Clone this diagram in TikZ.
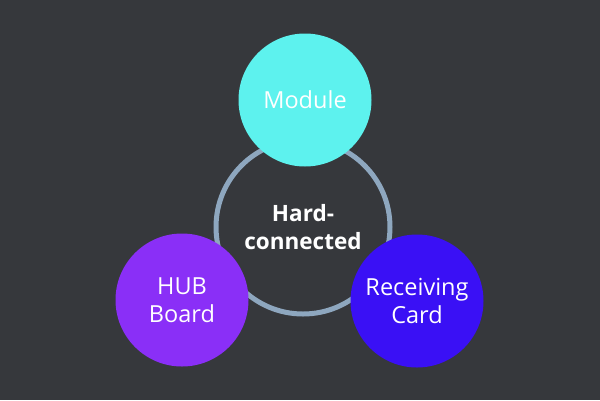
\documentclass[tikz,border=0pt]{standalone}
\usepackage{fontspec}
\setmainfont{Open Sans}
\usepackage{tikz}
\definecolor{sfondo}{HTML}{36383C}
\definecolor{anello}{HTML}{8EA7BF}
\definecolor{ciano}{HTML}{5DF2EE}
\definecolor{viola}{HTML}{8A2FF7}
\definecolor{blu}{HTML}{3A10F5}

\begin{document}
\begin{tikzpicture}[x=1pt, y=-1pt]
        % Stili
        \tikzstyle{ring} = [draw=anello, circle, line width=5pt, minimum size=174pt, inner sep=0pt, align=center, text=white, font=\fontsize{22.5}{28}\selectfont\bfseries]
        \tikzstyle{part} = [circle, minimum size=133pt, inner sep=0pt, align=center, text=white, font=\fontsize{23.5}{28}\selectfont]

        % Sfondo
        \fill [sfondo] (0,0) rectangle (600,400);
        \useasboundingbox (0,0) rectangle (600,400);

        % Nodi
        \node [ring] (core) at (303,227) {Hard-\\connected};
        \node [part, fill=ciano] (module) at (305,100) {Module};
        \node [part, fill=viola] (hub) at (182,300) {HUB\\Board};
        \node [part, fill=blu] (card) at (417,301) {Receiving\\Card};
\end{tikzpicture}
\end{document}
